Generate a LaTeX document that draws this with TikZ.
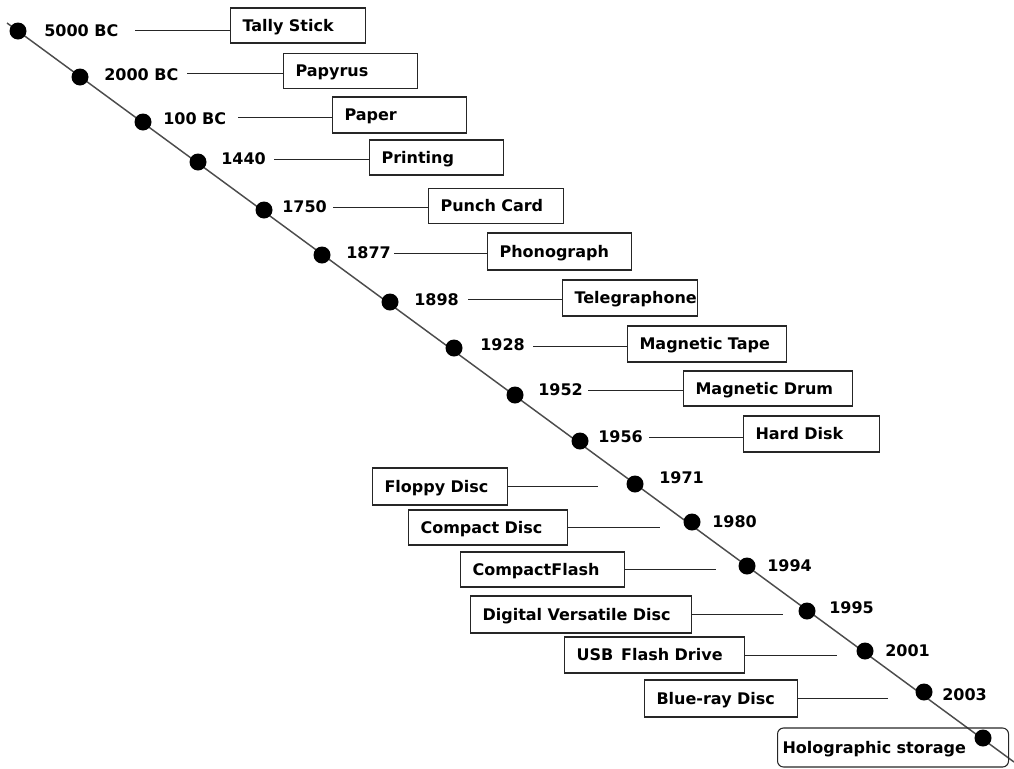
\documentclass[tikz,border=0pt]{standalone}
\usepackage{fontspec}
\setmainfont{DejaVu Sans}
\begin{document}
\begin{tikzpicture}[x=0.75pt,y=-0.75pt,
  every node/.style={font=\fontsize{12}{14}\selectfont\bfseries},
  box/.style={draw=black!85, line width=0.8pt, anchor=west, inner xsep=9pt, inner ysep=0pt, align=left, text height=8.75pt, text depth=0pt},
  lbl/.style={anchor=west, inner sep=0pt},
  dot/.style={circle, fill=black, minimum size=12.75pt, inner sep=0pt},
  conn/.style={draw=black!85, line width=0.75pt},
  axis/.style={draw=black!70, line width=1.1pt}]
\useasboundingbox (0,0) rectangle (1014,768);

% main time axis
\coordinate (ls) at (7,23);
\coordinate (le) at (1014,762);
\draw[axis] (ls) -- (le);

% boxes (upper part)
\node[box, minimum width=101.25pt, minimum height=26.25pt, text width=83.25pt] (b1) at (230,25.5) {Tally Stick};
\node[box, minimum width=100.5pt, minimum height=26.25pt, text width=82.5pt] (b2) at (283,71) {Papyrus};
\node[box, minimum width=100.5pt, minimum height=27pt, text width=82.5pt] (b3) at (332,115) {Paper};
\node[box, minimum width=100.5pt, minimum height=26.25pt, text width=82.5pt] (b4) at (369,157.5) {Printing};
\node[box, minimum width=101.25pt, minimum height=26.25pt, text width=83.25pt] (b5) at (428,206) {Punch Card};
\node[box, minimum width=108pt, minimum height=27.75pt, text width=90pt] (b6) at (487,251.5) {Phonograph};
\node[box, minimum width=101.25pt, minimum height=27pt, text width=83.25pt] (b7) at (562,298) {Telegraphone};
\node[box, minimum width=119.25pt, minimum height=27pt, text width=101.25pt] (b8) at (627,344) {Magnetic Tape};
\node[box, minimum width=126.75pt, minimum height=26.25pt, text width=108.75pt] (b9) at (683,388.5) {Magnetic Drum};
\node[box, minimum width=102pt, minimum height=27pt, text width=84pt] (b10) at (743,434) {Hard Disk};

% boxes (lower part)
\node[box, minimum width=101.25pt, minimum height=27.75pt, text width=83.25pt] (b11) at (372,486.5) {Floppy Disc};
\node[box, minimum width=119.25pt, minimum height=26.25pt, text width=101.25pt] (b12) at (408,527.5) {Compact Disc};
\node[box, minimum width=123pt, minimum height=26.25pt, text width=105pt] (b13) at (460,569.5) {CompactFlash};
\node[box, minimum width=165.75pt, minimum height=27.75pt, text width=147.75pt] (b14) at (470,614.5) {Digital Versatile Disc};
\node[box, minimum width=135pt, minimum height=27pt, text width=117pt] (b15) at (564,655) {USB\, Flash Drive};
\node[box, minimum width=114.75pt, minimum height=27.75pt, text width=96.75pt] (b16) at (644,698.5) {Blue-ray Disc};
\node[box, rounded corners=4.5pt, inner xsep=3.75pt, minimum width=173.25pt, minimum height=29.25pt, text width=165.75pt] (b17) at (777,747.5) {Holographic storage};

% year labels
\node[lbl] (y1) at (44,31) {5000 BC};
\node[lbl] (y2) at (104,75) {2000 BC};
\node[lbl] (y3) at (163,119) {100 BC};
\node[lbl] (y4) at (221,159) {1440};
\node[lbl] (y5) at (282,207) {1750};
\node[lbl] (y6) at (346,253) {1877};
\node[lbl] (y7) at (414,300) {1898};
\node[lbl] (y8) at (480,345) {1928};
\node[lbl] (y9) at (538,390) {1952};
\node[lbl] (y10) at (598,437) {1956};
\node[lbl] (y11) at (659,478) {1971};
\node[lbl] (y12) at (712,522) {1980};
\node[lbl] (y13) at (767,566) {1994};
\node[lbl] (y14) at (829,608) {1995};
\node[lbl] (y15) at (885,651) {2001};
\node[lbl] (y16) at (942,695) {2003};

% connector start points (upper part)
\coordinate (s1) at (135,30);
\coordinate (s2) at (187,73);
\coordinate (s3) at (238,117);
\coordinate (s4) at (274,159);
\coordinate (s5) at (333,207);
\coordinate (s6) at (394,253);
\coordinate (s7) at (468,299);
\coordinate (s8) at (533,346);
\coordinate (s9) at (588,390);
\coordinate (s10) at (649,437);
\foreach \i in {1,...,10} \draw[conn] (s\i) -- (s\i -| b\i.west);

% connector end points (lower part)
\coordinate (e11) at (598,486);
\coordinate (e12) at (660,528);
\coordinate (e13) at (716,569);
\coordinate (e14) at (783,615);
\coordinate (e15) at (837,654);
\coordinate (e16) at (888,697);
\foreach \i in {11,...,16} \draw[conn] (b\i.east) -- (b\i.east -| e\i);

% dots
\node[dot] (d1) at (18,31) {};
\node[dot] (d2) at (80,77) {};
\node[dot] (d3) at (143,122) {};
\node[dot] (d4) at (198,162) {};
\node[dot] (d5) at (264,210) {};
\node[dot] (d6) at (322,255) {};
\node[dot] (d7) at (390,302) {};
\node[dot] (d8) at (454,348) {};
\node[dot] (d9) at (515,395) {};
\node[dot] (d10) at (580,441) {};
\node[dot] (d11) at (635,484) {};
\node[dot] (d12) at (692,522) {};
\node[dot] (d13) at (747,566) {};
\node[dot] (d14) at (807,611) {};
\node[dot] (d15) at (865,651) {};
\node[dot] (d16) at (924,692) {};
\node[dot] (d17) at (983,738) {};
\end{tikzpicture}
\end{document}
